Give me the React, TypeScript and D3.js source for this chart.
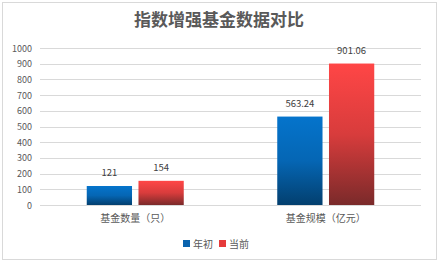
import React from "react";
import * as d3 from "d3";

const categories = ["基金数量（只）", "基金规模（亿元）"];
const seriesNames = ["年初", "当前"];
const startValues = [121, 563.24];
const currentValues = [154, 901.06];
const yTicks = [0, 100, 200, 300, 400, 500, 600, 700, 800, 900, 1000];
const title = "指数增强基金数据对比";

const W = 440, H = 267;
const font = "'Microsoft YaHei', 'Noto Sans CJK SC', sans-serif";

export default function App() {
  const x = d3.scaleBand<string>().domain(categories).range([40, 421]);
  const y = d3.scaleLinear().domain([0, 1000]).range([205, 48]);
  const inner = d3.scaleBand<string>().domain(seriesNames).range([0, 97]).paddingInner(0.125);
  const groupW = 97;
  const series = [
    { name: seriesNames[0], values: startValues, fill: "url(#gBlue)", legend: "#0A63AE" },
    { name: seriesNames[1], values: currentValues, fill: "url(#gRed)", legend: "#E63B3B" },
  ];
  const fmt = (v: number) => (Number.isInteger(v) ? String(v) : v.toFixed(2));
  return (
    <svg width={W} height={H} style={{ position: "absolute", left: 0, top: 0 }}>
      <defs>
        <linearGradient id="gBlue" x1="0" y1="0" x2="0" y2="1">
          <stop offset="0" stopColor="#0574CC" />
          <stop offset="0.5" stopColor="#0566B4" />
          <stop offset="1" stopColor="#033F6E" />
        </linearGradient>
        <linearGradient id="gRed" x1="0" y1="0" x2="0" y2="1">
          <stop offset="0" stopColor="#FF4646" />
          <stop offset="0.5" stopColor="#D83C3C" />
          <stop offset="1" stopColor="#7A2A2A" />
        </linearGradient>
      </defs>
      <rect x={0} y={0} width={W} height={H} fill="#fff" />
      <rect x={2.5} y={2.5} width={434} height={257} fill="#fff" stroke="#D9D9D9" />
      <text x={219} y={26} textAnchor="middle" fontFamily={font} fontSize={17} fontWeight="bold" fill="#595959">{title}</text>
      {yTicks.map((t) => (
        <g key={t}>
          <line x1={40} x2={421} y1={Math.round(y(t)) + 0.5} y2={Math.round(y(t)) + 0.5} stroke="#D9D9D9" />
          <text x={32} y={y(t) + 3.5} textAnchor="end" fontFamily={font} fontSize={9} fill="#595959">{t}</text>
        </g>
      ))}
      {categories.map((c, i) => {
        const gx = (x(c) as number) + x.bandwidth() / 2 - groupW / 2;
        return (
          <g key={c}>
            {series.map((s) => {
              const bx = gx + (inner(s.name) as number);
              const v = s.values[i];
              return (
                <g key={s.name}>
                  <rect x={bx} y={y(v)} width={inner.bandwidth()} height={y(0) - y(v)} fill={s.fill} />
                  <text x={bx + inner.bandwidth() / 2} y={y(v) - 10} textAnchor="middle" fontFamily={font} fontSize={9.5} fill="#404040">{fmt(v)}</text>
                </g>
              );
            })}
            <text x={(x(c) as number) + x.bandwidth() / 2} y={222} textAnchor="middle" fontFamily={font} fontSize={10} fill="#595959">{c}</text>
          </g>
        );
      })}
      <g>
        <rect x={183} y={240} width={7} height={7} fill={series[0].legend} />
        <text x={193} y={247.5} fontFamily={font} fontSize={10} fill="#595959">{series[0].name}</text>
        <rect x={219} y={240} width={7} height={7} fill={series[1].legend} />
        <text x={229} y={247.5} fontFamily={font} fontSize={10} fill="#595959">{series[1].name}</text>
      </g>
    </svg>
  );
}
